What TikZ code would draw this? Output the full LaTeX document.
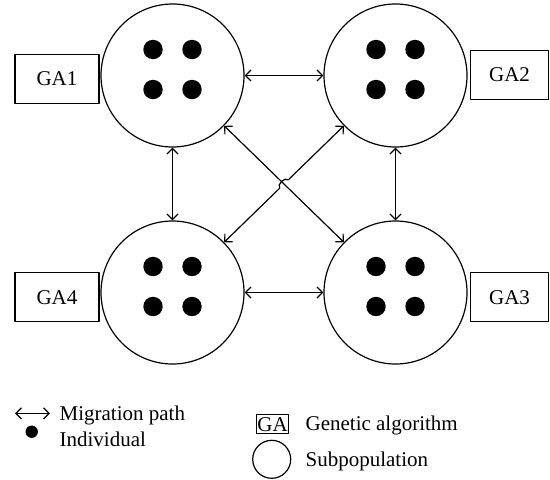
\documentclass[tikz,border=0pt]{standalone}
\usepackage{fontspec}
\setmainfont{Liberation Serif}
\usetikzlibrary{arrows.meta,calc}

\begin{document}
\begin{tikzpicture}[x=0.5pt, y=0.5pt, line cap=round, line join=round, line width=0.6pt,
    font=\fontsize{10.5}{12}\selectfont, >={Straight Barb[length=2.8pt,width=5.6pt]}]
  \tikzset{subpop/.style={draw, circle, minimum size=71.5pt, inner sep=0pt},
    gabox/.style={draw, rectangle, minimum width=42pt, minimum height=24.5pt, inner sep=0pt},
    indiv/.style={fill, circle, minimum size=9.7pt, inner sep=0pt},
    keytext/.style={anchor=base west, inner sep=0pt}}
  \useasboundingbox (0,0) rectangle (550,479);
  % subpopulations
  \node[subpop] (sub1) at (172.5,403.5) {};
  \node[subpop] (sub2) at (395.5,403.5) {};
  \node[subpop] (sub3) at (395.5,186.5) {};
  \node[subpop] (sub4) at (172.5,186.5) {};
  \foreach \s in {sub1,sub2,sub3,sub4}
    \foreach \dx/\dy in {-19.5/26, 19.5/26, -19.5/-14, 19.5/-14}
      \node[indiv] at ($(\s)+(\dx,\dy)$) {};
  % genetic algorithms
  \node[gabox] (ga1) at (57,400.2) {GA1};
  \node[gabox, minimum width=39pt] (ga2) at (509.5,404.3) {GA2};
  \node[gabox, minimum width=39pt] (ga3) at (509.5,181.8) {GA3};
  \node[gabox] (ga4) at (57,181.8) {GA4};
  % migration paths
  \draw[<->] (sub1) -- (sub2);
  \draw[<->] (sub2) -- (sub3);
  \draw[<->] (sub3) -- (sub4);
  \draw[<->] (sub4) -- (sub1);
  \draw[<->] (sub1) -- (sub3);
  \coordinate (cross) at ($(sub1)!0.5!(sub3)$);
  \coordinate (hopin) at ($(cross)!3pt!(sub4)$);
  \coordinate (hopout) at ($(cross)!3pt!(sub2)$);
  \draw[<->] (sub4) -- (hopin) to[bend left=90] (hopout) -- (sub2);
  % legend
  \coordinate (keyA) at (15,65.7);
  \coordinate (keyB) at (50,65.7);
  \draw[<->] (keyA) -- (keyB);
  \node[keytext] (mig) at (59,59) {Migration path};
  \node[indiv, minimum size=6.2pt] (dotkey) at (31.7,47.3) {};
  \node[keytext] (ind) at (59,33) {Individual};
  \node[draw, line width=0.5pt, inner sep=0.6pt, minimum height=9.4pt] (gakey) at (272.5,54.8) {GA};
  \node[keytext] (gen) at (305,48.3) {Genetic algorithm};
  \node[subpop, minimum size=19pt] (subkey) at (271.7,19.7) {};
  \node[keytext] (spl) at (305,12.3) {Subpopulation};
\end{tikzpicture}
\end{document}
